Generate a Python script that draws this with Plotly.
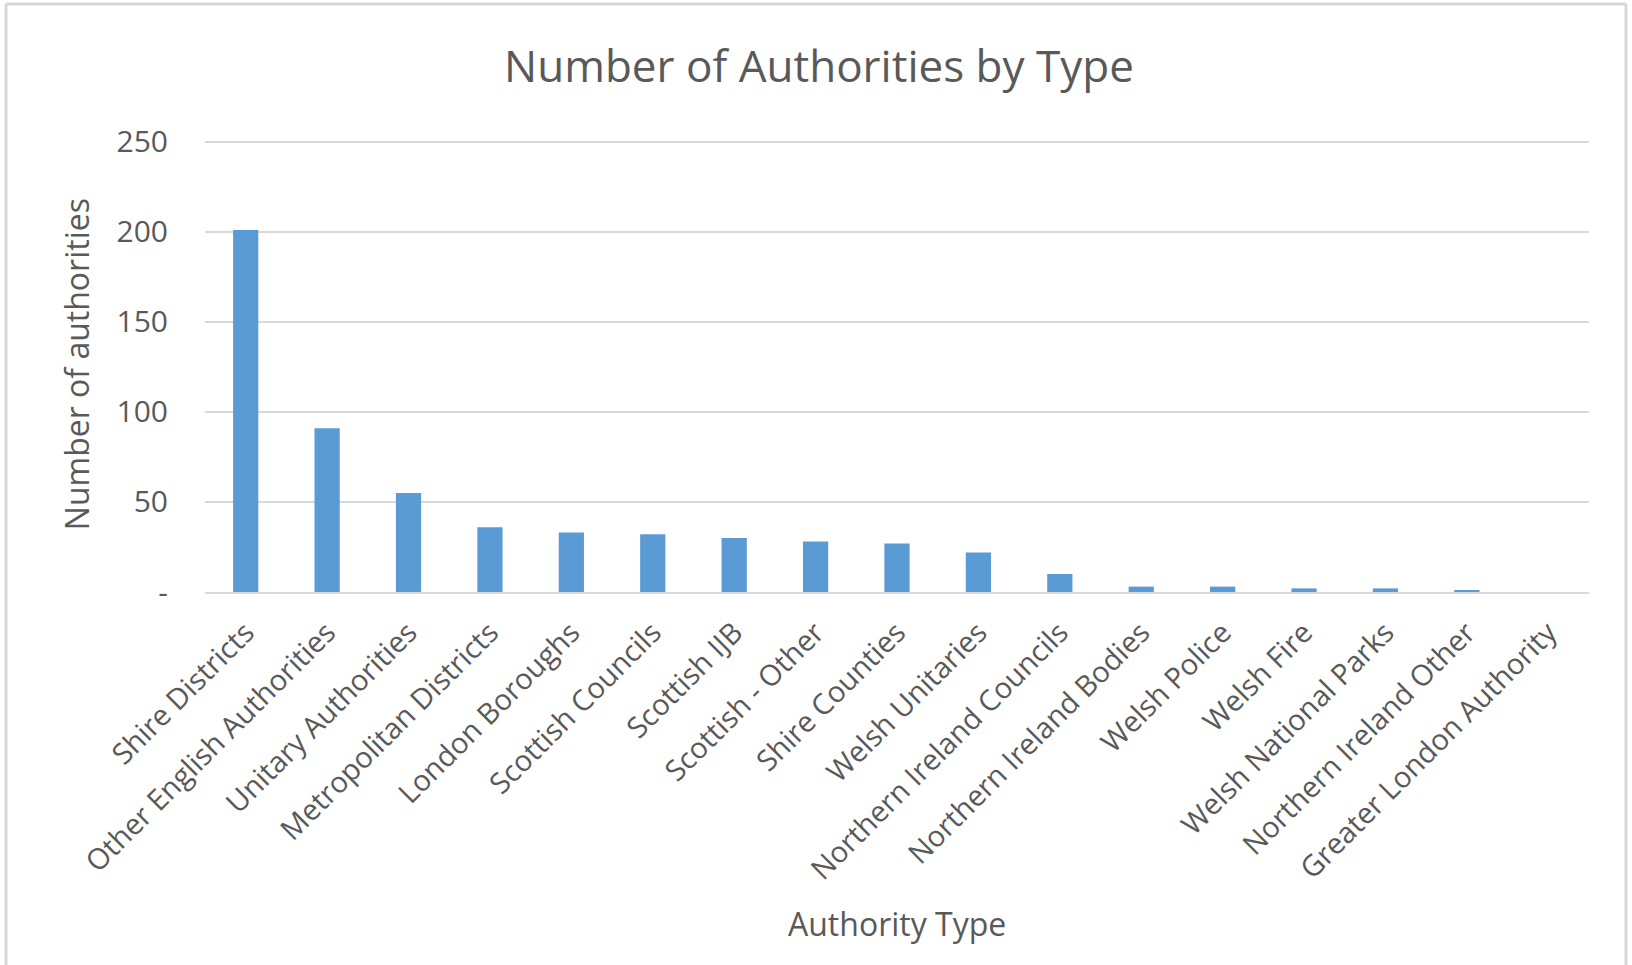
import plotly.graph_objects as go

categories = ["Shire Districts", "Other English Authorities", "Unitary Authorities",
              "Metropolitan Districts", "London Boroughs", "Scottish Councils",
              "Scottish IJB", "Scottish - Other", "Shire Counties", "Welsh Unitaries",
              "Northern Ireland Councils", "Northern Ireland Bodies", "Welsh Police",
              "Welsh Fire", "Welsh National Parks", "Northern Ireland Other",
              "Greater London Authority"]
counts = [201, 91, 55, 36, 33, 32, 30, 28, 27, 22, 10, 3, 3, 2, 2, 1, 0]
y_tick_vals = [0, 50, 100, 150, 200, 250]
y_tick_text = ["-", "50", "100", "150", "200", "250"]

W, H = 1632, 965
YMAX = 251
L, R, B = 205, 1589, 591.7
T = B - 450 * YMAX / 250
FONT = "Open Sans"
GREY = "#595959"

fig = go.Figure(go.Bar(
    x=categories, y=counts,
    marker=dict(color="#5B9BD5", line=dict(width=0)),
))

def px_x(p):
    return (p - L) / (R - L)

def px_y(p):
    return (B - p) / (B - T)

fig.update_layout(
    width=W, height=H,
    margin=dict(l=L, r=W - R, t=T, b=H - B, autoexpand=False),
    paper_bgcolor="white", plot_bgcolor="white",
    bargap=0.69,
    showlegend=False,
    font=dict(family=FONT, color=GREY),
    title=dict(text="Number of Authorities by Type", x=819 / W, xanchor="center",
               y=1 - 67 / H, yanchor="middle",
               font=dict(family=FONT, size=44, color=GREY)),
    xaxis=dict(tickangle=-45, tickfont=dict(size=29, color=GREY),
               showline=True, linecolor="#d9d9d9", linewidth=2,
               ticks="", showgrid=False, ticklabelstandoff=10),
    yaxis=dict(range=[0, YMAX], tickvals=y_tick_vals, ticktext=y_tick_text,
               tickfont=dict(size=30, color=GREY), ticks="", ticklen=0,
               ticklabelstandoff=36,
               showgrid=True, gridcolor="#d9d9d9", gridwidth=1.5,
               zeroline=False, showline=False),
    annotations=[
        dict(text="Authority Type", xref="paper", yref="paper",
             x=px_x(897), y=px_y(923), xanchor="center", yanchor="middle",
             showarrow=False, font=dict(size=32, color=GREY, family=FONT)),
        dict(text="Number of authorities", xref="paper", yref="paper",
             x=px_x(76), y=px_y(364), xanchor="center", yanchor="middle",
             textangle=-90, showarrow=False,
             font=dict(size=32, color=GREY, family=FONT)),
    ],
)

# outer frame of the chart area
frame = dict(color="#d6d6d6", width=3)
fig.add_shape(type="line", xref="paper", yref="paper",
              x0=px_x(6), x1=px_x(6), y0=px_y(4), y1=px_y(H + 10), line=frame)
fig.add_shape(type="line", xref="paper", yref="paper",
              x0=px_x(1626), x1=px_x(1626), y0=px_y(4), y1=px_y(H + 10), line=frame)
fig.add_shape(type="line", xref="paper", yref="paper",
              x0=px_x(6), x1=px_x(1626), y0=px_y(4), y1=px_y(4), line=frame)

fig.write_html("out.html")
